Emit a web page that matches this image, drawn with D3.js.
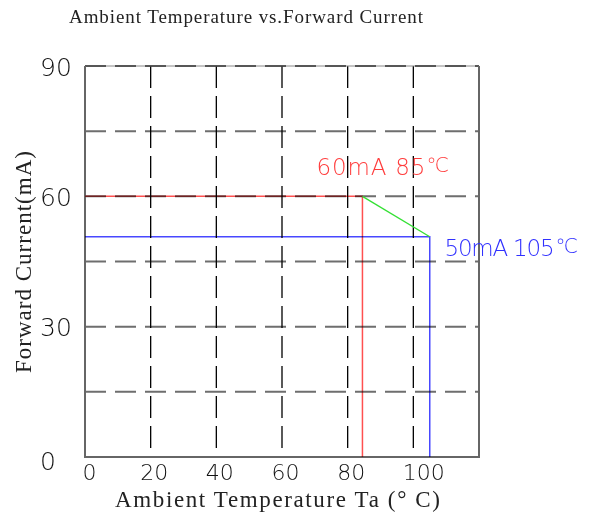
<!DOCTYPE html>
<html><head><meta charset="utf-8">
<script src="https://cdn.jsdelivr.net/npm/d3@7"></script>
<style>
body{margin:0;background:#fff;}
svg{display:block;}
</style></head>
<body>
<script>
const xTicks = [0, 20, 40, 60, 80, 100];
const yTicks = [0, 30, 60, 90];
const xGrid = [20, 40, 60, 80, 100];
const yGrid = [15, 30, 45, 60, 75];
const redSeries = [[0, 60], [84.5, 60], [84.5, 0]];
const blueSeries = [[0, 50.7], [105, 50.7], [105, 0]];
const greenSeries = [[84.5, 60], [105, 50.7]];
const labels = [
  {text: "60mA 85", x: 70.5, y: 65, len: 109, color: "#ff3c3c"},
  {text: "50mA 105", x: 109.5, y: 46.2, len: 110, color: "#3030ff"}
];

const W = 589, H = 515;
const L = 85, R = 479, T = 66, B = 457;
const svg = d3.select("body").append("svg").attr("width", W).attr("height", H);
const x = d3.scaleLinear().domain([0, 120]).range([L, R]);
const y = d3.scaleLinear().domain([0, 90]).range([B, T]);

// horizontal grid
svg.append("g").selectAll("line").data(yGrid).join("line")
  .attr("x1", L).attr("x2", R).attr("y1", d => y(d)).attr("y2", d => y(d))
  .attr("stroke", "#6e6e6e").attr("stroke-width", 2).attr("stroke-dasharray", "21,9");
// vertical grid
svg.append("g").selectAll("line").data(xGrid).join("line")
  .attr("x1", d => x(d)).attr("x2", d => x(d)).attr("y1", T).attr("y2", B)
  .attr("stroke", "#000").attr("stroke-width", 1.3).attr("stroke-dasharray", "22,8");
// top line
svg.append("line").attr("x1", L).attr("x2", R).attr("y1", T).attr("y2", T)
  .attr("stroke", "#888").attr("stroke-width", 1);
svg.append("line").attr("x1", L).attr("x2", R).attr("y1", T).attr("y2", T)
  .attr("stroke", "#333").attr("stroke-width", 1.5).attr("stroke-dasharray", "21,9");
// frame
svg.append("path").attr("d", `M${L},${T}V${B}H${R}V${T}`)
  .attr("fill", "none").attr("stroke", "#666").attr("stroke-width", 2);

const line = d3.line().x(d => x(d[0])).y(d => y(d[1]));
svg.append("path").datum(redSeries).attr("d", line).attr("fill", "none")
  .attr("stroke", "#ff5050").attr("stroke-width", 1.5).style("mix-blend-mode", "multiply");
svg.append("path").datum(blueSeries).attr("d", line).attr("fill", "none")
  .attr("stroke", "#4848ff").attr("stroke-width", 1.5).style("mix-blend-mode", "multiply");
svg.append("path").datum(greenSeries).attr("d", line).attr("fill", "none")
  .attr("stroke", "#33e033").attr("stroke-width", 1.3);

const tickFont = "'DejaVu Sans', sans-serif";
// x axis
const xa = svg.append("g").attr("transform", `translate(0,${B})`)
  .call(d3.axisBottom(x).tickValues(xTicks).tickSize(0).tickFormat(d3.format("d")));
xa.select(".domain").remove();
xa.selectAll("text").attr("font-family", tickFont).attr("font-weight", 200)
  .attr("font-size", 22).attr("fill", "#111").attr("text-anchor", "start")
  .attr("x", d => d === 0 ? -3 : -11).attr("y", 23).attr("dy", 0);
// y axis
const ya = svg.append("g").attr("transform", `translate(${L},0)`)
  .call(d3.axisLeft(y).tickValues(yTicks).tickSize(0).tickFormat(d3.format("d")));
ya.select(".domain").remove();
ya.selectAll("text").attr("font-family", tickFont).attr("font-weight", 200)
  .attr("font-size", 25).attr("fill", "#111").attr("text-anchor", "start")
  .attr("x", 40 - L).attr("dy", "0.36em")
  .attr("transform", d => d === 0 ? "translate(0,3)" : null);

// titles
const serif = "'Liberation Serif', 'DejaVu Serif', serif";
svg.append("text").text("Ambient Temperature vs.Forward Current")
  .attr("x", 69).attr("y", 23).attr("font-family", serif).attr("font-size", 19)
  .attr("textLength", 354).attr("lengthAdjust", "spacing").attr("fill", "#222");
svg.append("text").text("Ambient Temperature Ta (° C)")
  .attr("x", 115).attr("y", 507).attr("font-family", serif).attr("font-size", 23)
  .attr("textLength", 325).attr("lengthAdjust", "spacing").attr("fill", "#222");
svg.append("text").text("Forward Current(mA)")
  .attr("transform", "translate(31,373) rotate(-90)")
  .attr("font-family", serif).attr("font-size", 23)
  .attr("textLength", 222).attr("lengthAdjust", "spacing").attr("fill", "#222");

// annotations
labels.forEach(l => {
  svg.append("text").text(l.text).attr("x", x(l.x)).attr("y", y(l.y))
    .attr("font-family", tickFont).attr("font-weight", 200).attr("font-size", 23)
    .attr("textLength", l.len).attr("lengthAdjust", "spacing")
    .attr("fill", l.color);
  svg.append("text").text("℃").attr("x", x(l.x) + l.len + 1).attr("y", y(l.y) - 3)
    .attr("font-family", tickFont).attr("font-weight", 200).attr("font-size", 20)
    .attr("fill", l.color);
});
</script>
</body></html>
